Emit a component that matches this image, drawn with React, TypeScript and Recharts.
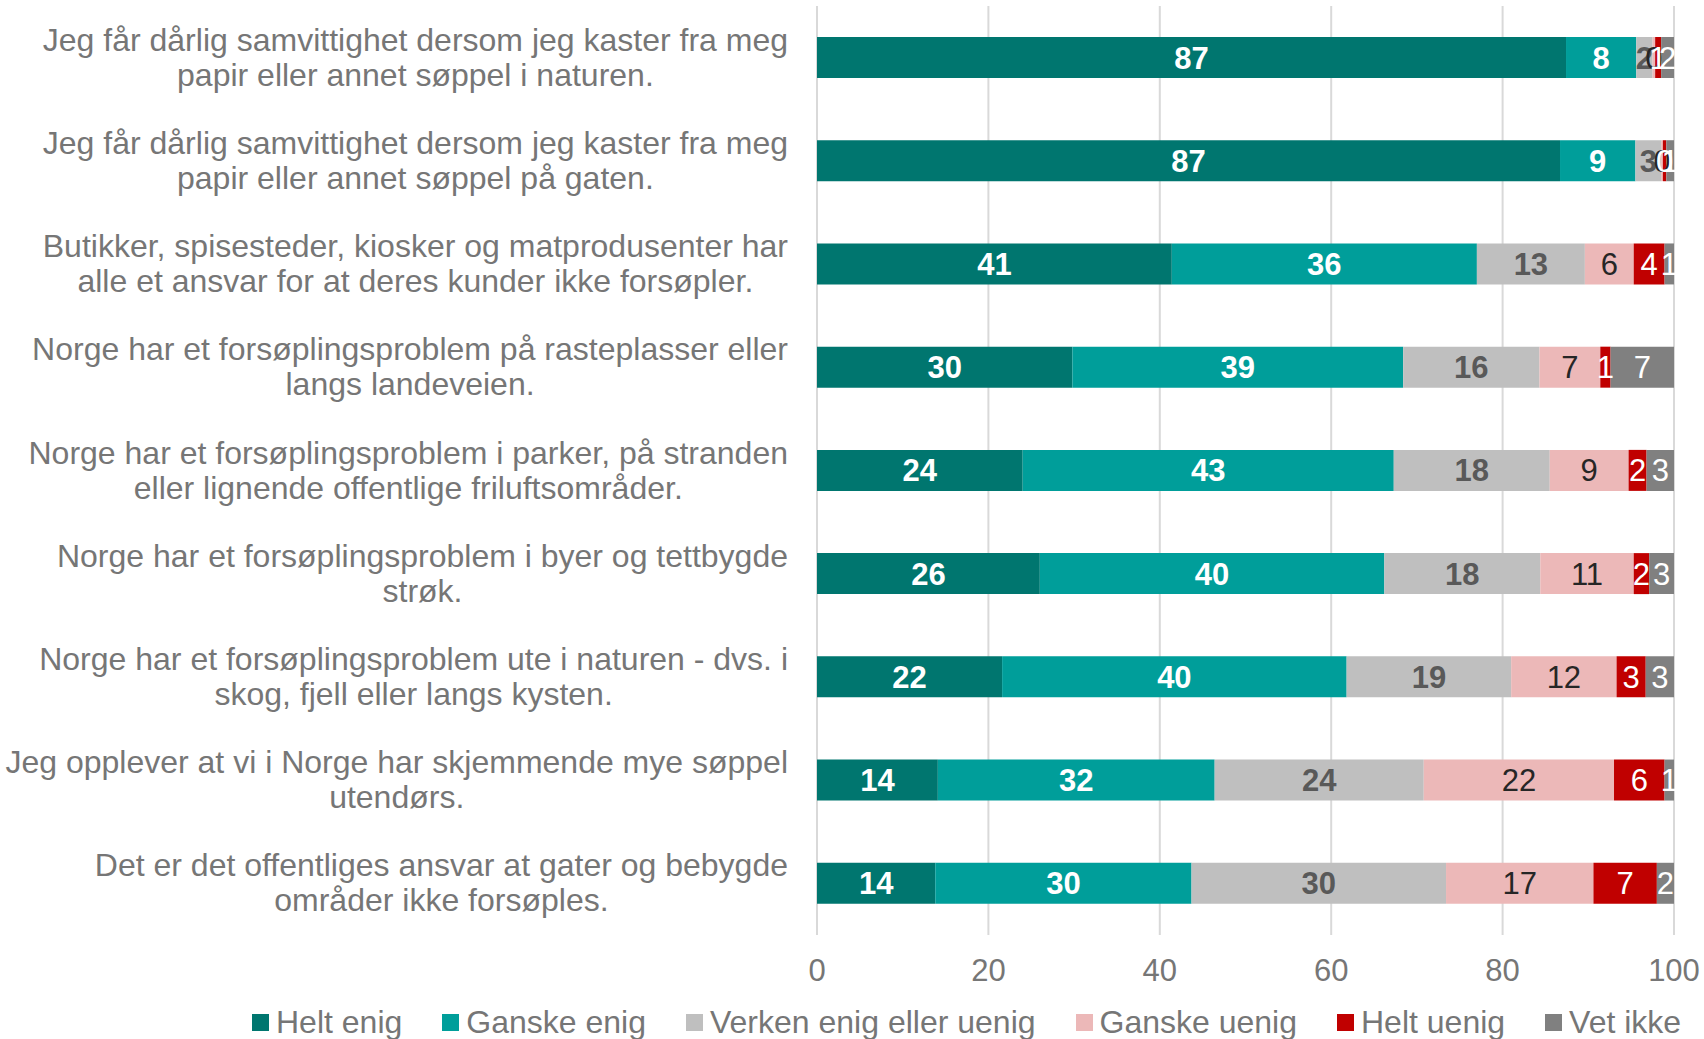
import React from "react"
import { BarChart, Bar, XAxis, YAxis, CartesianGrid, Legend, LabelList } from "recharts"

// Påstander (kategorier), linjeskift der originalen bryter teksten
const categories = [
  "Jeg får dårlig samvittighet dersom jeg kaster fra meg\npapir eller annet søppel i naturen.",
  "Jeg får dårlig samvittighet dersom jeg kaster fra meg\npapir eller annet søppel på gaten.",
  "Butikker, spisesteder, kiosker og matprodusenter har\nalle et ansvar for at deres kunder ikke forsøpler.",
  "Norge har et forsøplingsproblem på rasteplasser eller\nlangs landeveien.",
  "Norge har et forsøplingsproblem i parker, på stranden\neller lignende offentlige friluftsområder.",
  "Norge har et forsøplingsproblem i byer og tettbygde\nstrøk.",
  "Norge har et forsøplingsproblem ute i naturen - dvs. i\nskog, fjell eller langs kysten.",
  "Jeg opplever at vi i Norge har skjemmende mye søppel\nutendørs.",
  "Det er det offentliges ansvar at gater og bebygde\nområder ikke forsøples.",
]

// Prosent per svaralternativ
const heltEnig = [87.4, 86.7, 41.4, 29.8, 24.0, 26.0, 21.6, 14.1, 13.8]
const ganskeEnig = [8.2, 8.8, 35.6, 38.6, 43.3, 40.2, 40.2, 32.3, 29.9]
const verken = [1.9, 3.0, 12.6, 15.9, 18.2, 18.2, 19.2, 24.4, 29.7]
const ganskeUenig = [0.3, 0.2, 5.7, 7.1, 9.2, 10.9, 12.3, 22.2, 17.2]
const heltUenig = [0.7, 0.4, 3.6, 1.2, 2.1, 1.8, 3.4, 5.9, 7.4]
const vetIkke = [1.5, 0.9, 1.1, 7.4, 3.2, 2.9, 3.3, 1.1, 2.0]

const xTicks = [0, 20, 40, 60, 80, 100]

const series = [
  { key: "heltEnig", name: "Helt enig", fill: "#00766F", label: "#ffffff", bold: true },
  { key: "ganskeEnig", name: "Ganske enig", fill: "#009E9A", label: "#ffffff", bold: true },
  { key: "verken", name: "Verken enig eller uenig", fill: "#BFBFBF", label: "#595959", bold: true },
  { key: "ganskeUenig", name: "Ganske uenig", fill: "#ECB8B8", label: "#262626", bold: false },
  { key: "heltUenig", name: "Helt uenig", fill: "#C00000", label: "#ffffff", bold: false },
  { key: "vetIkke", name: "Vet ikke", fill: "#808080", label: "#ffffff", bold: false },
]

const data = categories.map((name, i) => ({
  name,
  heltEnig: heltEnig[i],
  ganskeEnig: ganskeEnig[i],
  verken: verken[i],
  ganskeUenig: ganskeUenig[i],
  heltUenig: heltUenig[i],
  vetIkke: vetIkke[i],
}))

const FONT = '"Liberation Sans", Arial, sans-serif'
const GREY = "#767676"

function CategoryTick({ x, y, payload }: any) {
  return (
    <foreignObject x={x - 812} y={y - 45} width={791} height={90}>
      <div
        style={{
          height: "100%",
          display: "flex",
          alignItems: "center",
          justifyContent: "flex-end",
        }}
      >
        <div
          style={{
            textAlign: "center",
            whiteSpace: "pre",
            fontFamily: FONT,
            fontSize: 32,
            lineHeight: "35px",
            color: GREY,
          }}
        >
          {payload.value}
        </div>
      </div>
    </foreignObject>
  )
}

function NumberTick({ x, y, payload }: any) {
  return (
    <text
      x={x}
      y={y + 27}
      textAnchor="middle"
      dominantBaseline="central"
      fontFamily={FONT}
      fontSize={31}
      fill={GREY}
    >
      {payload.value}
    </text>
  )
}

function LegendBox() {
  return (
    <div
      style={{
        height: 47,
        boxSizing: "border-box",
        paddingTop: 14,
        paddingLeft: 252,
        display: "flex",
        alignItems: "center",
        fontFamily: FONT,
        fontSize: 32,
        lineHeight: "33px",
        color: GREY,
        whiteSpace: "nowrap",
      }}
    >
      {series.map((s) => (
        <div key={s.key} style={{ display: "flex", alignItems: "center", marginRight: 40, flexShrink: 0 }}>
          <span style={{ width: 17, height: 17, background: s.fill, marginRight: 7, display: "inline-block" }} />
          <span>{s.name}</span>
        </div>
      ))}
    </div>
  )
}

export default function App() {
  return (
    <div style={{ position: "absolute", left: 0, top: 0, width: 1704, height: 1039, background: "#fff" }}>
      <BarChart
        width={1704}
        height={1039}
        data={data}
        layout="vertical"
        barSize={41}
        margin={{ top: 6, right: 30, left: 0, bottom: 0 }}
      >
        <CartesianGrid horizontal={false} stroke="#D9D9D9" strokeWidth={2} />
        <XAxis
          type="number"
          domain={[0, 100]}
          ticks={xTicks}
          axisLine={false}
          tickLine={false}
          height={57}
          tick={<NumberTick />}
        />
        <YAxis
          type="category"
          dataKey="name"
          width={817}
          axisLine={false}
          tickLine={false}
          tick={<CategoryTick />}
        />
        <Legend
          verticalAlign="bottom"
          content={<LegendBox />}
          wrapperStyle={{ left: 0, width: 1704 }}
        />
        {series.map((s) => (
          <Bar key={s.key} dataKey={s.key} name={s.name} stackId="a" fill={s.fill} isAnimationActive={false}>
            <LabelList
              dataKey={s.key}
              position="center"
              formatter={(v: any) => Math.round(Number(v))}
              fill={s.label}
              fontFamily={FONT}
              fontSize={31}
              fontWeight={s.bold ? "bold" : "normal"}
            />
          </Bar>
        ))}
      </BarChart>
    </div>
  )
}
